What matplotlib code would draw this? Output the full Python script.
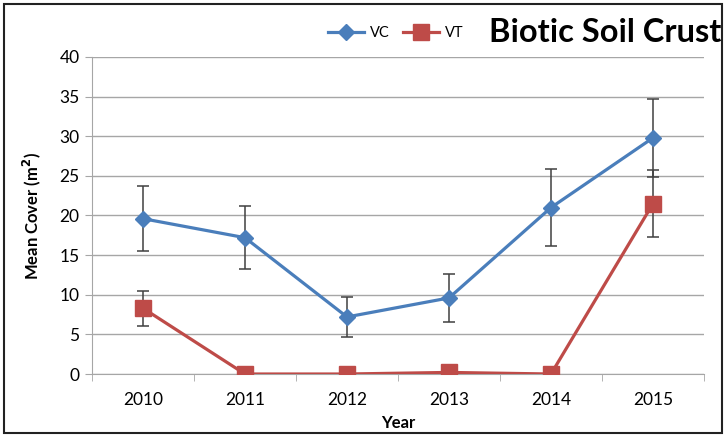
import matplotlib
matplotlib.use("Agg")
import matplotlib.pyplot as plt
from matplotlib.patches import Rectangle

years = ["2010", "2011", "2012", "2013", "2014", "2015"]
vc_mean = [19.6, 17.2, 7.2, 9.6, 21.0, 29.8]
vc_err = [4.1, 4.0, 2.5, 3.0, 4.9, 4.9]
vt_mean = [8.3, 0.0, 0.0, 0.2, 0.0, 21.5]
vt_err = [2.2, 0.0, 0.0, 0.0, 0.0, 4.2]

BLUE = "#4a7ebb"
RED = "#be4b48"
GRID = "#a6a6a6"

plt.rcParams["font.family"] = ["Lato", "DejaVu Sans"]

fig = plt.figure(figsize=(7.26, 4.38), dpi=100)
ax = fig.add_axes([0.1267, 0.1461, 0.8430, 0.7238])

x = list(range(len(years)))

ax.errorbar(x, vc_mean, yerr=vc_err, fmt="none", ecolor="#404040",
            elinewidth=1.1, capsize=4, capthick=1.1, zorder=2)
ax.errorbar([i for i, e in zip(x, vt_err) if e > 0],
            [m for m, e in zip(vt_mean, vt_err) if e > 0],
            yerr=[e for e in vt_err if e > 0], fmt="none", ecolor="#404040",
            elinewidth=1.1, capsize=4, capthick=1.1, zorder=2)

ax.plot(x, vc_mean, color=BLUE, linewidth=2.3, marker="D", markersize=8,
        markerfacecolor=BLUE, markeredgecolor=BLUE, label="VC", zorder=4)
ax.plot(x, vt_mean, color=RED, linewidth=2.3, marker="s", markersize=11,
        markerfacecolor=RED, markeredgecolor=RED, label="VT", zorder=3)

ax.set_xlim(-0.5, len(years) - 0.5)
ax.set_ylim(0, 40)
ax.set_yticks(range(0, 41, 5))
ax.set_xticks(x)
ax.set_xticklabels(years)
ax.set_xticks([i - 0.5 for i in range(len(years) + 1)], minor=True)
ax.tick_params(axis="x", which="major", length=0, pad=13, labelsize=12.5)
ax.tick_params(axis="x", which="minor", length=5, color=GRID, direction="out")
ax.tick_params(axis="y", length=5, color=GRID, labelsize=12.5, pad=4)

ax.grid(axis="y", color=GRID, linewidth=1)
ax.set_axisbelow(True)
for side in ("top", "right"):
    ax.spines[side].set_visible(False)
for side in ("left", "bottom"):
    ax.spines[side].set_color(GRID)

ax.set_xlabel("Year", fontweight="bold", fontsize=12, labelpad=5)
ax.set_ylabel("Mean Cover (m$^\\mathbf{2}$)", fontweight="bold", fontsize=12, labelpad=12)

leg = ax.legend(loc="center", bbox_to_anchor=(0.545, 0.925), bbox_transform=fig.transFigure,
                ncol=2, frameon=False, fontsize=10.5, handlelength=2.5,
                columnspacing=0.9, handletextpad=0.4)

fig.text(0.673, 0.926, "Biotic Soil Crust", fontsize=23.5, fontweight="bold",
         ha="left", va="center")

# outer chart border
fig.patches.append(Rectangle((0.006, 0.012), 0.989, 0.978, transform=fig.transFigure,
                             fill=False, edgecolor="#222222", linewidth=1.5))

fig.savefig("out.png", dpi=100)
